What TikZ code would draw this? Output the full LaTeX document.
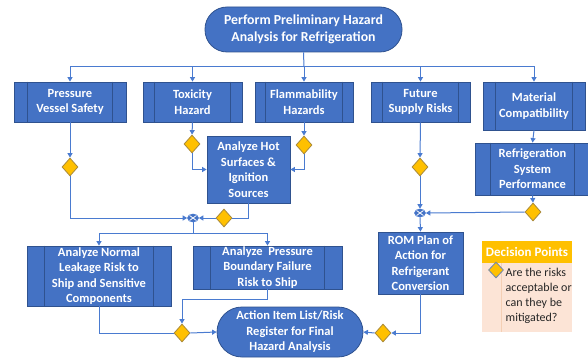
\documentclass[tikz,border=0pt]{standalone}
\usepackage{fontspec}
\setmainfont{Carlito}
\usetikzlibrary{arrows.meta,shapes.geometric}

\definecolor{boxblue}{HTML}{4472C4}
\definecolor{boxedge}{HTML}{2F528F}
\definecolor{linkblue}{HTML}{4A7BD0}
\definecolor{gold}{HTML}{FFC000}
\definecolor{goldedge}{HTML}{A8893A}
\definecolor{peach}{HTML}{FCE4D6}
\definecolor{peachline}{HTML}{F4CFB4}
\definecolor{legtext}{HTML}{262626}

\tikzset{
  boxtext/.style={text=white, font=\bfseries\fontsize{12.5}{15.5}\selectfont, align=center},
  procbox/.style={boxtext, rectangle, fill=boxblue, draw=boxedge, line width=0.8pt, inner sep=0pt},
  plainbox/.style={procbox},
  terminal/.style={boxtext, rectangle, fill=boxblue, draw=boxedge, line width=0.8pt, inner sep=0pt},
  innerline/.style={draw=boxedge, line width=0.8pt},
  decision/.style={diamond, fill=gold, draw=goldedge, line width=0.8pt, minimum width=16pt, minimum height=18pt, inner sep=0pt},
  junction/.style={ellipse, fill=boxblue, draw=linkblue, line width=0.6pt, minimum width=11pt, minimum height=8pt, inner sep=0pt,
    path picture={\draw[white, line width=0.8pt]
      (path picture bounding box.north west) -- (path picture bounding box.south east)
      (path picture bounding box.south west) -- (path picture bounding box.north east);}},
  link/.style={draw=linkblue, line width=1pt},
  flow/.style={link, -{Triangle[width=5pt,length=4.5pt]}},
}

% predefined-process box: draws the two inner side bars
\newcommand{\sidebars}[2]{%
  \draw[innerline] ([xshift=#2]#1.north west) -- ([xshift=#2]#1.south west);
  \draw[innerline] ([xshift=-#2]#1.north east) -- ([xshift=-#2]#1.south east);}

\begin{document}
\begin{tikzpicture}[x=1pt, y=-1pt]
\useasboundingbox (0,0) rectangle (588,358);

% start
\node[terminal, rounded corners=22pt, minimum width=197pt, minimum height=45pt,
      font=\bfseries\fontsize{13.8}{17}\selectfont] (start) at (303.5,29.5)
  {Perform Preliminary Hazard\\Analysis for Refrigeration};

% first row of analyses
\node[procbox, minimum width=112pt, minimum height=40pt] (press) at (70,102) {Pressure\\Vessel Safety};
\node[procbox, minimum width=99pt, minimum height=40pt] (tox) at (192.5,102) {Toxicity\\Hazard};
\node[procbox, minimum width=98pt, minimum height=40pt] (flam) at (304,102) {Flammability\\Hazards};
\node[procbox, minimum width=99pt, minimum height=40pt] (fut) at (420.5,102) {Future\\Supply Risks};
\node[procbox, minimum width=102pt, minimum height=48pt] (mat) at (534,106) {Material\\Compatibility};
\sidebars{press}{14pt}
\sidebars{tox}{12pt}
\sidebars{flam}{11pt}
\sidebars{fut}{12pt}
\sidebars{mat}{13pt}

% second level
\node[plainbox, minimum width=83pt, minimum height=67pt] (hot) at (248.5,169.5)
  {Analyze Hot\\Surfaces \&\\Ignition\\Sources};
\node[procbox, minimum width=115pt, minimum height=52pt] (rsp) at (532.5,169)
  {Refrigeration\\System\\Performance};
\sidebars{rsp}{16pt}

% third level
\node[procbox, minimum width=144pt, minimum height=60pt] (norm) at (99,276)
  {Analyze Normal\\Leakage Risk to\\Ship and Sensitive\\Components};
\node[procbox, minimum width=149pt, minimum height=43pt] (pbf) at (267.5,267.5)
  {Analyze\ \ Pressure\\Boundary Failure\\Risk to Ship};
\sidebars{norm}{18pt}
\sidebars{pbf}{18pt}
\node[plainbox, minimum width=85pt, minimum height=62pt] (rom) at (420.5,263)
  {ROM Plan of\\Action for\\Refrigerant\\Conversion};

% end
\node[terminal, rounded corners=25pt, minimum width=146pt, minimum height=50pt] (act) at (290,332)
  {Action Item List/Risk\\Register for Final\\Hazard Analysis};

% decision points
\node[decision] (dP) at (70,167) {};
\node[decision] (dT) at (192,144) {};
\node[decision] (dF) at (304,145) {};
\node[decision] (dU) at (420,167) {};
\node[decision] (dH) at (224,218) {};
\node[decision] (dR) at (533,212) {};
\node[decision] (dL) at (182,333) {};
\node[decision] (dO) at (383,333) {};

% merge junctions
\node[junction] (j1) at (193,218) {};
\node[junction] (j2) at (420,213) {};

% distribution from the start
\coordinate (bus) at (304,67);
\draw[link] (start.south) -- (bus);
\draw[flow] (bus) -- (flam.north);
\draw[flow] (bus) -| (press.north);
\draw[flow] (bus) -| (tox.north);
\draw[flow] (bus) -| (fut.north);
\draw[flow] (bus) -| (mat.north);

% left branch
\draw[flow] (press.south) -- (dP.north);
\draw[flow] (dP.south) |- (j1.west);
\draw[flow] (tox.south) -- (dT.north);
\draw[flow] (dT.south) |- (hot.west);
\draw[flow] (flam.south) -- (dF.north);
\draw[flow] (dF.south) |- (hot.east);
\draw[link] (hot.south) |- (dH.east);
\draw[flow] (dH.west) -- (j1.east);

\coordinate (bus2) at (193,233);
\draw[link] (j1.south) -- (bus2);
\draw[flow] (bus2) -| (norm.north);
\draw[flow] (bus2) -| (pbf.north);

\draw[link] (norm.south) |- (dL.west);
\draw[flow] (pbf.south) -- ++(0,10) -| (dL.north);
\draw[flow] (dL.east) -- (act.west);

% right branch
\draw[flow] (fut.south) -- (dU.north);
\draw[flow] (dU.south) -- (j2.north);
\draw[flow] (mat.south) -- (rsp.north);
\draw[flow] (rsp.south) -- (dR.north);
\draw[flow] (dR.west) -- (j2.east);
\draw[flow] (j2.south) -- (rom.north);
\draw[flow] (rom.south) |- (dO.east);
\draw[flow] (dO.west) -- (act.east);

% legend
\node[rectangle, fill=gold, minimum width=90pt, minimum height=22pt, inner sep=0pt,
      text=white, font=\bfseries\fontsize{13}{15}\selectfont] (leghead) at (527,252) {Decision Points};
\node[rectangle, fill=peach, minimum width=90pt, minimum height=69pt, inner sep=0pt] (legbody) at (527,297.5) {};
\draw[peachline, line width=0.8pt] ([xshift=20pt]legbody.north west) -- ([xshift=20pt]legbody.south west);
\node[diamond, fill=gold, draw=boxedge!70, line width=0.8pt, minimum width=15pt, minimum height=16pt, inner sep=0pt] (legdia) at (496,270) {};
\node[anchor=north west, align=left, inner sep=0pt, text=legtext,
      font=\fontsize{12}{15}\selectfont] (legtxt) at (505.5,268)
  {Are the risks\\acceptable or\\can they be\\mitigated?};
\end{tikzpicture}
\end{document}
